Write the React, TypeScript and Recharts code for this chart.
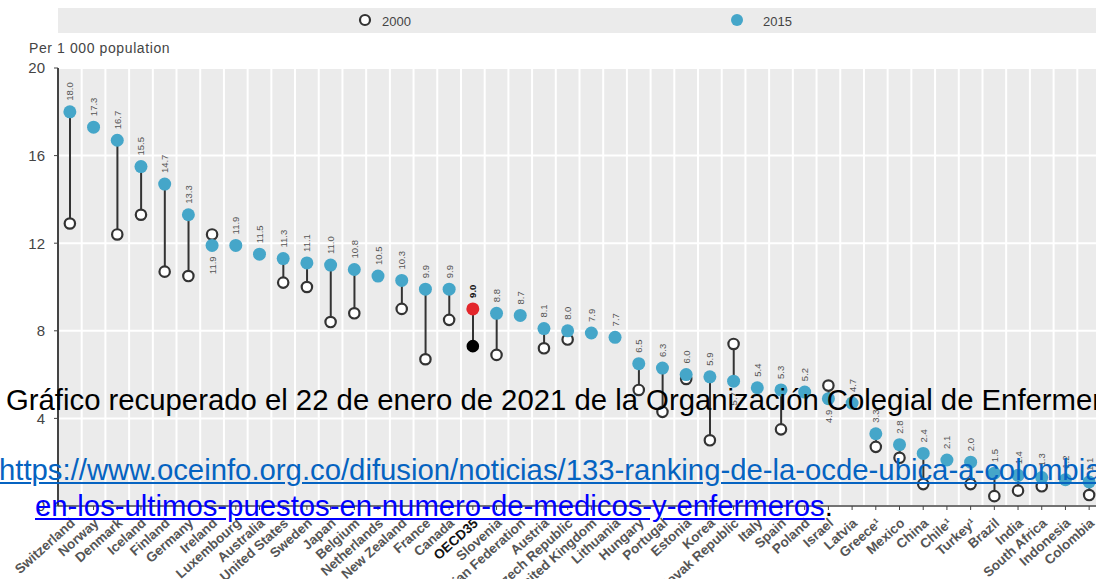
import React from "react";
import {
  ComposedChart,
  Bar,
  Line,
  XAxis,
  YAxis,
  CartesianGrid,
  LabelList,
} from "recharts";

const countries = [
  "Switzerland", "Norway", "Denmark", "Iceland", "Finland", "Germany", "Ireland",
  "Luxembourg", "Australia", "United States", "Sweden", "Japan", "Belgium",
  "Netherlands", "New Zealand", "France", "Canada", "OECD35", "Slovenia",
  "Russian Federation", "Austria", "Czech Republic", "United Kingdom", "Lithuania",
  "Hungary", "Portugal", "Estonia", "Korea", "Slovak Republic", "Italy", "Spain",
  "Poland", "Israel", "Latvia", "Greece¹", "Mexico", "China", "Chile¹", "Turkey¹",
  "Brazil", "India", "South Africa", "Indonesia", "Colombia",
];

const values2015 = [
  18.0, 17.3, 16.7, 15.5, 14.7, 13.3, 11.9, 11.9, 11.5, 11.3, 11.1, 11.0, 10.8,
  10.5, 10.3, 9.9, 9.9, 9.0, 8.8, 8.7, 8.1, 8.0, 7.9, 7.7, 6.5, 6.3, 6.0, 5.9,
  5.7, 5.4, 5.3, 5.2, 4.9, 4.7, 3.3, 2.8, 2.4, 2.1, 2.0, 1.5, 1.4, 1.3, 1.2, 1.1,
];

const values2000: (number | null)[] = [
  12.9, null, 12.4, 13.3, 10.7, 10.5, 12.4, null, null, 10.2, 10.0, 8.4, 8.8,
  null, 9.0, 6.7, 8.5, 7.3, 6.9, null, 7.2, 7.6, null, null, 5.3, 4.3, 5.8, 3.0,
  7.4, null, 3.5, null, 5.5, null, 2.7, 2.2, 1.0, null, 1.0, 0.45, 0.7, 0.9, null, 0.5,
];

const yTicks = [0, 4, 8, 12, 16, 20];
const legendLabels = ["2000", "2015"];
const axisTitle = "Per 1 000 population";
const OECD = "OECD35";

const data = countries.map((c, i) => ({
  country: c,
  v2015: values2015[i],
  v2000: values2000[i],
  range: values2000[i] == null ? null : [values2000[i], values2015[i]],
}));

const BLUE = "#45a6c9";
const DARK = "#333333";
const FONT = "Liberation Sans, Arial, sans-serif";

const Dot2015 = (props: any) => {
  const { cx, cy, payload } = props;
  if (cx == null || cy == null) return null;
  const isO = payload.country === OECD;
  return <circle cx={cx} cy={cy} r={6.5} fill={isO ? "#e3262b" : BLUE} stroke="none" />;
};

const Dot2000 = (props: any) => {
  const { cx, cy, payload } = props;
  if (cx == null || cy == null || payload.v2000 == null) return null;
  const isO = payload.country === OECD;
  return (
    <circle
      cx={cx}
      cy={cy}
      r={5.2}
      fill={isO ? "#000" : "#fff"}
      stroke={isO ? "#000" : DARK}
      strokeWidth={2.2}
    />
  );
};

const ValueLabel = (props: any) => {
  const { x, y, value, index } = props;
  if (x == null || y == null) return null;
  const old = values2000[index];
  const below = old != null && old > values2015[index];
  const isO = countries[index] === OECD;
  const ty = below ? y + 11 : y - 11;
  return (
    <text
      x={x}
      y={ty}
      transform={`rotate(-90, ${x}, ${ty})`}
      textAnchor={below ? "end" : "start"}
      dominantBaseline="central"
      fontSize={9.5}
      fontWeight={isO ? 700 : 400}
      fill={isO ? "#111" : "#555"}
      fontFamily={FONT}
    >
      {Number(value).toFixed(1)}
    </text>
  );
};

const XTick = (props: any) => {
  const { x, y, payload } = props;
  const isO = payload.value === OECD;
  return (
    <g transform={`translate(${x + 3},${y + 9})`}>
      <text
        transform="rotate(-42)"
        textAnchor="end"
        dominantBaseline="central"
        fontSize={13.5}
        fontWeight={700}
        fill={isO ? "#111" : "#555"}
        fontFamily={FONT}
      >
        {payload.value}
      </text>
    </g>
  );
};

const vGen = ({ offset }: any) => {
  const n = countries.length;
  const w = offset.width / n;
  const arr: number[] = [];
  for (let i = 1; i < n; i++) arr.push(offset.left + i * w);
  return arr;
};

export default function App() {
  return (
    <div
      style={{
        position: "absolute",
        left: 0,
        top: 0,
        width: 1096,
        height: 579,
        overflow: "hidden",
        background: "#fff",
        fontFamily: FONT,
      }}
    >
      {/* legend band */}
      <div
        style={{
          position: "absolute",
          left: 58,
          top: 8,
          width: 1050,
          height: 25,
          background: "#ebebeb",
        }}
      />
      <svg style={{ position: "absolute", left: 0, top: 0 }} width={1096} height={60}>
        <circle cx={365} cy={20} r={5} fill="#fff" stroke={DARK} strokeWidth={2.2} />
        <text x={382} y={21} dominantBaseline="central" fontSize={13} fill="#444" fontFamily={FONT}>
          {legendLabels[0]}
        </text>
        <circle cx={737} cy={20} r={6} fill={BLUE} />
        <text x={763} y={21} dominantBaseline="central" fontSize={13} fill="#444" fontFamily={FONT}>
          {legendLabels[1]}
        </text>
        <text
          x={29}
          y={48}
          dominantBaseline="central"
          fontSize={14}
          letterSpacing={0.6}
          fill="#444"
          fontFamily={FONT}
        >
          {axisTitle}
        </text>
      </svg>
      <div style={{ position: "absolute", left: 0, top: 0 }}>
        <ComposedChart
          width={1110}
          height={579}
          data={data}
          margin={{ top: 68, right: 9, bottom: 0, left: 0 }}
        >
          <CartesianGrid
            fill="#ebebeb"
            fillOpacity={1}
            stroke="#ffffff"
            strokeWidth={2}
            verticalCoordinatesGenerator={vGen}
          />
          <XAxis
            dataKey="country"
            interval={0}
            height={73}
            tick={<XTick />}
            tickSize={4}
            axisLine={{ stroke: "#444", strokeWidth: 1.5 }}
            tickLine={{ stroke: "#444" }}
          />
          <YAxis
            width={58}
            domain={[0, 20]}
            ticks={yTicks}
            tickSize={4}
            tickMargin={9}
            axisLine={{ stroke: "#444", strokeWidth: 2 }}
            tickLine={{ stroke: "#444" }}
            tick={{ fontSize: 15, fill: "#444", fontFamily: FONT }}
            allowDataOverflow
          />
          <Bar dataKey="range" barSize={2} fill={DARK} isAnimationActive={false} />
          <Line
            dataKey="v2000"
            stroke="none"
            dot={<Dot2000 />}
            activeDot={false}
            isAnimationActive={false}
          />
          <Line
            dataKey="v2015"
            stroke="none"
            dot={<Dot2015 />}
            activeDot={false}
            isAnimationActive={false}
          >
            <LabelList dataKey="v2015" content={<ValueLabel />} />
          </Line>
        </ComposedChart>
      </div>
      {/* overlay text */}
      <div
        style={{
          position: "absolute",
          left: 6,
          top: 381,
          fontSize: 29.3,
          color: "#000",
          whiteSpace: "nowrap",
          lineHeight: "38px",
        }}
      >
        Gráfico recuperado el 22 de enero de 2021 de la Organización Colegial de Enfermería
      </div>
      <div
        style={{
          position: "absolute",
          left: -1,
          top: 451,
          fontSize: 29.3,
          color: "#0563c1",
          textDecoration: "underline",
          whiteSpace: "nowrap",
          lineHeight: "38px",
        }}
      >
        https://www.oceinfo.org.co/difusion/noticias/133-ranking-de-la-ocde-ubica-a-colombia-
      </div>
      <div
        style={{
          position: "absolute",
          left: 35,
          top: 487,
          fontSize: 29.3,
          color: "#000",
          whiteSpace: "nowrap",
          lineHeight: "38px",
        }}
      >
        <span style={{ color: "#0000ff", textDecoration: "underline" }}>
          en-los-ultimos-puestos-en-numero-de-medicos-y-enfermeros
        </span>
        .
      </div>
    </div>
  );
}
